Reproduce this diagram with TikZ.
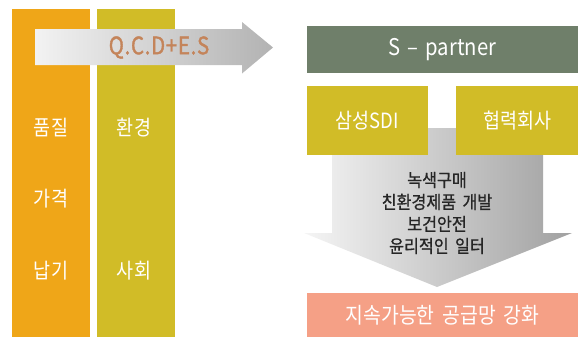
\documentclass[tikz,border=0pt]{standalone}
\usepackage{fontspec}
\newfontfamily\krfont{Noto Sans CJK KR}
\newfontfamily\krnarrow[FakeStretch=0.88]{Noto Sans CJK KR}
\newfontfamily\krheavy[FakeStretch=0.85,FakeBold=1.5]{Noto Sans CJK KR}
\newfontfamily\krdark[FakeStretch=0.9,FakeBold=0.8]{Noto Sans CJK KR}
\definecolor{qualcol}{HTML}{EFA618}
\definecolor{envcol}{HTML}{D1BC27}
\definecolor{partcol}{HTML}{6F7F6A}
\definecolor{supplycol}{HTML}{F5A086}
\definecolor{qcdcol}{HTML}{C4845A}
\definecolor{textcol}{HTML}{262626}

\begin{document}
\begin{tikzpicture}[x=1pt,y=-1pt,every node/.style={inner sep=0pt,font=\krfont},
  bar/.style={minimum width=78pt,minimum height=328pt},
  box/.style={fill=envcol,minimum width=121pt,minimum height=69pt},
  wide/.style={minimum width=271pt},
  wlabel/.style={text=white,font=\krnarrow\fontsize{21}{21}\selectfont}]
  \useasboundingbox (0,0) rectangle (579,338);
  \node[bar,fill=qualcol] (quality) at (51,173) {};
  \node[bar,fill=envcol] (environ) at (136,173) {};
  \node[wlabel] (q1) at (51,128) {품질};
  \node[wlabel] (q2) at (51,199) {가격};
  \node[wlabel] (q3) at (51,271) {납기};
  \node[wlabel] (e1) at (134,128) {환경};
  \node[wlabel] (e2) at (134,271) {사회};
  \shade[left color=black!5,right color=black!30]
    (35,29) -- (242,29) -- (242,22) -- (273,47.5) -- (242,73.5) -- (242,65) -- (35,65) -- cycle;
  \node[text=qcdcol,font=\krheavy\fontsize{24}{24}\selectfont\addfontfeatures{LetterSpace=3}] (qcdes) at (159,47.5) {Q.C.D+E.S};
  \shade[left color=black!4,right color=black!37]
    (332,128) -- (543,128) -- (543,233) -- (572,233) -- (437,287) -- (304,233) -- (332,233) -- cycle;
  \node[wide,fill=partcol,minimum height=47pt,wlabel,font=\krnarrow\fontsize{23}{23}\selectfont] (spartner) at (442.5,49.5) {S\hspace{0.3em}–\hspace{0.3em}partner};
  \node[box,wlabel] (sdi) at (367.5,120.5) {삼성SDI};
  \node[box,wlabel,minimum width=122pt] (partners) at (517,120.5) {협력회사};
  \node[text=textcol,align=center,font=\krdark\fontsize{18}{22}\selectfont] (actions) at (437,213)
    {녹색구매\\친환경제품\hspace{0.35em}개발\\보건안전\\윤리적인\hspace{0.35em}일터};
  \node[wide,fill=supplycol,minimum height=44pt,wlabel,font=\krnarrow\fontsize{22}{22}\selectfont] (supply) at (442.5,315) {지속가능한\hspace{0.35em}공급망\hspace{0.35em}강화};
\end{tikzpicture}
\end{document}
